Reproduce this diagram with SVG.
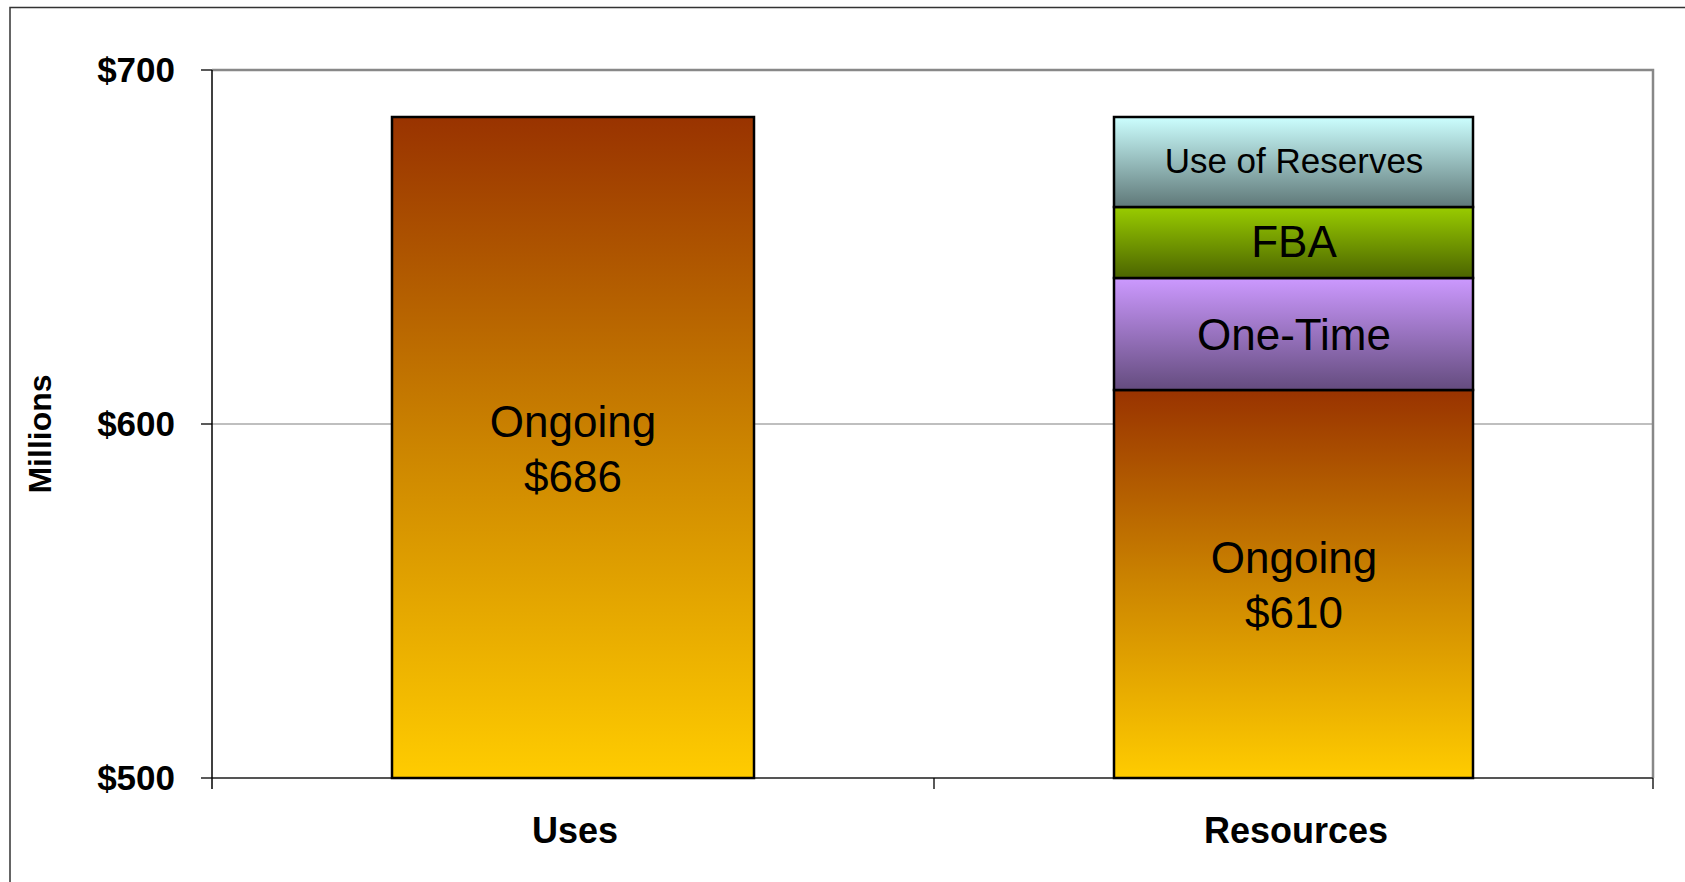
<svg xmlns="http://www.w3.org/2000/svg" width="1685" height="882" viewBox="0 0 1685 882">
<style>
.axl{font-family:"Liberation Sans",Arial,sans-serif;font-weight:bold;font-size:35px;fill:#000}
.lbl{font-family:"Liberation Sans",Arial,sans-serif;font-size:44px;fill:#000;text-anchor:middle}
.bar{stroke:#000;stroke-width:2.5}
.grid{stroke:#808080;stroke-width:1.2;fill:none}
.tick{stroke:#000;stroke-width:1.3}
</style>
<defs>
<linearGradient id="gOngoing" x1="0" y1="0" x2="0" y2="1">
<stop offset="0" stop-color="#993300"/>
<stop offset="0.5" stop-color="#CC8500"/>
<stop offset="1" stop-color="#FFCC00"/>
</linearGradient>
<linearGradient id="gRes" x1="0" y1="0" x2="0" y2="1">
<stop offset="0" stop-color="#CCFFFF"/>
<stop offset="1" stop-color="#5F7878"/>
</linearGradient>
<linearGradient id="gFBA" x1="0" y1="0" x2="0" y2="1">
<stop offset="0" stop-color="#99CC00"/>
<stop offset="1" stop-color="#4B6400"/>
</linearGradient>
<linearGradient id="gOne" x1="0" y1="0" x2="0" y2="1">
<stop offset="0" stop-color="#CC99FF"/>
<stop offset="1" stop-color="#644C7E"/>
</linearGradient>
</defs>
<rect x="0" y="0" width="1685" height="882" fill="#fff"/>
<rect x="10" y="7.5" width="1720" height="920" fill="none" stroke="#333" stroke-width="1.5"/>
<g id="plot">
<line class="grid" x1="212" y1="424" x2="1653" y2="424"/>
<path d="M212,70 H1653 V778" fill="none" stroke="#888" stroke-width="2.5"/>
<line x1="212" y1="778" x2="1653" y2="778" stroke="#555" stroke-width="2"/>
<line x1="212" y1="70" x2="212" y2="789" stroke="#000" stroke-width="1.5"/>
<g class="tick">
<line x1="201" y1="70" x2="212" y2="70"/>
<line x1="201" y1="424" x2="212" y2="424"/>
<line x1="201" y1="778" x2="212" y2="778"/>
<line x1="934" y1="778" x2="934" y2="789"/>
<line x1="1653" y1="778" x2="1653" y2="789"/>
</g>
</g>
<g id="yaxis">
<text class="axl" x="175" y="82" text-anchor="end">$700</text>
<text class="axl" x="175" y="436" text-anchor="end">$600</text>
<text class="axl" x="175" y="790" text-anchor="end">$500</text>
<text class="axl" transform="translate(51,434) rotate(-90)" text-anchor="middle" style="font-size:32px">Millions</text>
</g>
<g id="xaxis">
<text class="axl" x="575" y="843" text-anchor="middle" style="font-size:36px">Uses</text>
<text class="axl" x="1296" y="843" text-anchor="middle" style="font-size:36px">Resources</text>
</g>
<g id="uses-ongoing">
<rect class="bar" x="392" y="117" width="362" height="661" fill="url(#gOngoing)"/>
<text class="lbl" x="573" y="437">Ongoing</text>
<text class="lbl" x="573" y="492">$686</text>
</g>
<g id="res-ongoing">
<rect class="bar" x="1114" y="390" width="359" height="388" fill="url(#gOngoing)"/>
<text class="lbl" x="1294" y="573">Ongoing</text>
<text class="lbl" x="1294" y="628">$610</text>
</g>
<g id="res-onetime">
<rect class="bar" x="1114" y="278" width="359" height="112" fill="url(#gOne)"/>
<text class="lbl" x="1294" y="350">One-Time</text>
</g>
<g id="res-fba">
<rect class="bar" x="1114" y="207" width="359" height="71" fill="url(#gFBA)"/>
<text class="lbl" x="1294" y="257">FBA</text>
</g>
<g id="res-reserves">
<rect class="bar" x="1114" y="117" width="359" height="90" fill="url(#gRes)"/>
<text class="lbl" x="1294" y="173" style="font-size:35px">Use of Reserves</text>
</g>
<g id="connectors"/>
</svg>
